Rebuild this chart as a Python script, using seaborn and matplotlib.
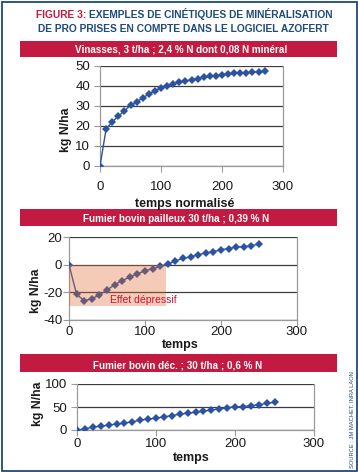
import matplotlib
matplotlib.use("Agg")
import matplotlib.pyplot as plt
import seaborn as sns
import pandas as pd
from matplotlib.patches import Rectangle
from matplotlib import font_manager

# ---------------- data ----------------
t_vinasses = [0, 10, 20, 30, 40, 50, 60, 70, 80, 90, 100, 110, 120, 130,
              140, 150, 160, 170, 180, 190, 200, 210, 220, 230, 240, 250, 260, 270]
n_vinasses = [0, 18.5, 22, 25, 27.5, 30.3, 32, 34, 36, 37.5, 39, 40.2, 41, 41.8,
              42.5, 43.1, 43.7, 44.3, 44.8, 45.2, 45.6, 46, 46.3, 46.5, 46.7, 46.9, 47.2, 47.3]

t_pailleux = [0, 10, 20, 30, 40, 50, 60, 70, 80, 90, 100, 110, 120,
              130, 140, 150, 160, 170, 180, 190, 200, 210, 220, 230, 240, 250]
n_pailleux = [0, -21.5, -26, -24.7, -21.8, -18.3, -14.6, -11.5, -9, -6.5, -4.5, -2.9, -1.2,
              0.7, 2.7, 4.5, 5.6, 7.2, 8.4, 9.3, 10.8, 11.6, 12.7, 12.9, 13.8, 14.8]

t_dec = [0, 10, 20, 30, 40, 50, 60, 70, 80, 90, 100, 110, 120,
         130, 140, 150, 160, 170, 180, 190, 200, 210, 220, 230, 240, 250]
n_dec = [0, 2, 6.4, 8, 10.7, 12.8, 15, 17.8, 21.4, 23.6, 25.7, 28.6, 31.4,
         34.3, 36.4, 38.6, 40.7, 43.6, 45.7, 47.9, 50.7, 50.7, 52.9, 55, 57.9, 60]

depress_x_end = 128
depress_y_min = -30

title_red = "FIGURE 3:"
title_rest = "EXEMPLES DE CINÉTIQUES DE MINÉRALISATION"
title_line2 = "DE PRO PRISES EN COMPTE DANS LE LOGICIEL AZOFERT"
banners = ["Vinasses, 3 t/ha ; 2,4 % N dont 0,08 N minéral",
           "Fumier bovin pailleux 30 t/ha ; 0,39 % N",
           "Fumier bovin déc. ; 30 t/ha ; 0,6 % N"]
xlabels = ["temps normalisé", "temps", "temps"]
ylabel = "kg N/ha"
source = "SOURCE : JM MACHET, INRA LAON"

# ---------------- style ----------------
sns.set_theme(style="white")


def pick(fams):
    for f in fams:
        try:
            font_manager.findfont(f, fallback_to_default=False)
            return f
        except Exception:
            pass
    return "DejaVu Sans"


FONT = pick(["Liberation Sans Narrow", "Liberation Sans", "DejaVu Sans"])
plt.rcParams['font.family'] = [FONT, 'DejaVu Sans']
plt.rcParams['axes.unicode_minus'] = False

RED = "#c21a40"
NAVY = "#1f4a7a"
BLUE = "#2c52a2"
GRID = "#3c3c3c"
SPINE = "#9a9a9a"
TXT = "#1a1a1a"

W, H = 358, 472
fig = plt.figure(figsize=(W / 100, H / 100), dpi=100)
fig.patch.set_facecolor("white")


def fx(x):
    return x / W


def fy(y):
    return 1 - y / H


def ax_rect(x0, x1, ytop, ybot):
    return [fx(x0), fy(ybot), (x1 - x0) / W, (ybot - ytop) / H]


renderer = fig.canvas.get_renderer()


def width_px(t):
    return t.get_window_extent(renderer).width


# border
fig.patches.append(Rectangle((fx(2), fy(470.5)), fx(357) - fx(2), fy(1.5) - fy(470.5),
                             transform=fig.transFigure, fill=False,
                             edgecolor=NAVY, linewidth=1.3, zorder=0))

# titles
full = fig.text(0, 0, title_red + " " + title_rest, fontsize=10, fontweight="bold")
scale = 297 / width_px(full)
full.remove()
tsize = 10 * scale
t1 = fig.text(fx(36), fy(18.5), title_red, fontsize=tsize, fontweight="bold",
              color=RED, ha="left", va="baseline")
w1 = width_px(t1)
sp = fig.text(0, 0, "E E", fontsize=tsize, fontweight="bold")
sp2 = fig.text(0, 0, "EE", fontsize=tsize, fontweight="bold")
gap = width_px(sp) - width_px(sp2)
sp.remove(); sp2.remove()
fig.text(fx(36 + w1 + gap), fy(18.5), title_rest, fontsize=tsize, fontweight="bold",
         color=NAVY, ha="left", va="baseline")
fig.text(fx(183), fy(32.5), title_line2, fontsize=tsize, fontweight="bold",
         color=NAVY, ha="center", va="baseline")

# banners
banner_y = [(40.7, 56.7), (209.3, 226), (354, 372)]
banner_text_x = [181.5, 176.5, 177.5]
banner_base = [52.2, 222, 368.5]
bt = fig.text(0, 0, banners[0], fontsize=10, fontweight="bold")
bsize = 10 * 211 / width_px(bt)
bt.remove()
for (y0, y1), tx, tb, s in zip(banner_y, banner_text_x, banner_base, banners):
    fig.patches.append(Rectangle((fx(20), fy(y1)), fx(337) - fx(20), fy(y0) - fy(y1),
                                 transform=fig.transFigure, facecolor=RED,
                                 edgecolor="none", zorder=1))
    fig.text(fx(tx), fy(tb), s, fontsize=bsize, fontweight="bold", color="white",
             ha="center", va="baseline", zorder=2)

# axes
axes_specs = [
    dict(rect=(100, 283, 66, 166), x=t_vinasses, y=n_vinasses, ylim=(0, 50),
         yticks=[0, 10, 20, 30, 40, 50], xpad=7.0, ypad=3.0, lsize=9.5,
         ylab=(65.7, 130), xlab=(185, 204)),
    dict(rect=(69, 297, 237, 320), x=t_pailleux, y=n_pailleux, ylim=(-40, 20),
         yticks=[-40, -20, 0, 20], xpad=0.3, ypad=0.8, lsize=9.5,
         ylab=(43, 291), xlab=(180, 345)),
    dict(rect=(77, 314, 384, 430), x=t_dec, y=n_dec, ylim=(0, 100),
         yticks=[0, 50, 100], xpad=1.8, ypad=3.0, lsize=9.5,
         ylab=(38, 404), xlab=(191, 458)),
]

axes = []
for spec, xl in zip(axes_specs, xlabels):
    ax = fig.add_axes(ax_rect(*spec["rect"]))
    df = pd.DataFrame({"t": spec["x"], "n": spec["y"]})
    sns.lineplot(data=df, x="t", y="n", ax=ax, color=BLUE, linewidth=1.0,
                 marker="D", markersize=3.8, markeredgewidth=0,
                 markerfacecolor=BLUE, zorder=3)
    ax.set_xlim(0, 300)
    ax.set_ylim(*spec["ylim"])
    ax.set_xticks([0, 100, 200, 300])
    ax.set_yticks(spec["yticks"])
    ax.set_xlabel("")
    ax.set_ylabel("")
    ax.set_facecolor("white")
    ax.grid(axis="y", color=GRID, linewidth=0.9)
    ax.grid(axis="x", visible=False)
    ax.set_axisbelow(True)
    for side in ["left", "bottom", "right", "top"]:
        ax.spines[side].set_visible(True)
        ax.spines[side].set_color(SPINE)
        ax.spines[side].set_linewidth(0.9)
    ax.spines["top"].set_visible(False)
    ax.tick_params(axis="both", direction="out", length=4, width=0.8, color=SPINE,
                   labelsize=spec["lsize"], labelcolor=TXT, left=True, bottom=True)
    ax.tick_params(axis="x", pad=spec["xpad"])
    ax.tick_params(axis="y", pad=spec["ypad"])
    # keep the y label clear of the tick labels
    fig.canvas.draw()
    tick_left = min(lb.get_window_extent(renderer).x0
                    for lb in ax.get_yticklabels() if lb.get_text())
    yl = fig.text(fx(spec["ylab"][0]), fy(spec["ylab"][1]), ylabel, rotation=90,
                  fontsize=8.8, fontweight="bold", color=TXT, ha="center", va="center")
    half = yl.get_window_extent(renderer).width / 2
    xc = min(spec["ylab"][0], tick_left - half - 1.0)
    yl.set_x(fx(xc))
    fig.text(fx(spec["xlab"][0]), fy(spec["xlab"][1]), xl,
             fontsize=9, fontweight="bold", color=TXT, ha="center", va="center")
    axes.append(ax)

# depressive effect zone
ax2 = axes[1]
ax2.add_patch(Rectangle((0, depress_y_min), depress_x_end, -depress_y_min,
                        facecolor="#df6a2e", alpha=0.35, edgecolor="none", zorder=5))
ax2.text(54, -25.8, "Effet dépressif", fontsize=7.5, color="#d0103a",
         ha="left", va="center", zorder=6)

# source
st = fig.text(fx(352), fy(420), source, rotation=90, fontsize=6, color=NAVY,
              ha="center", va="center")
st.set_fontsize(6 * 96 / st.get_window_extent(renderer).height)

fig.savefig("out.png", dpi=100, facecolor="white")
